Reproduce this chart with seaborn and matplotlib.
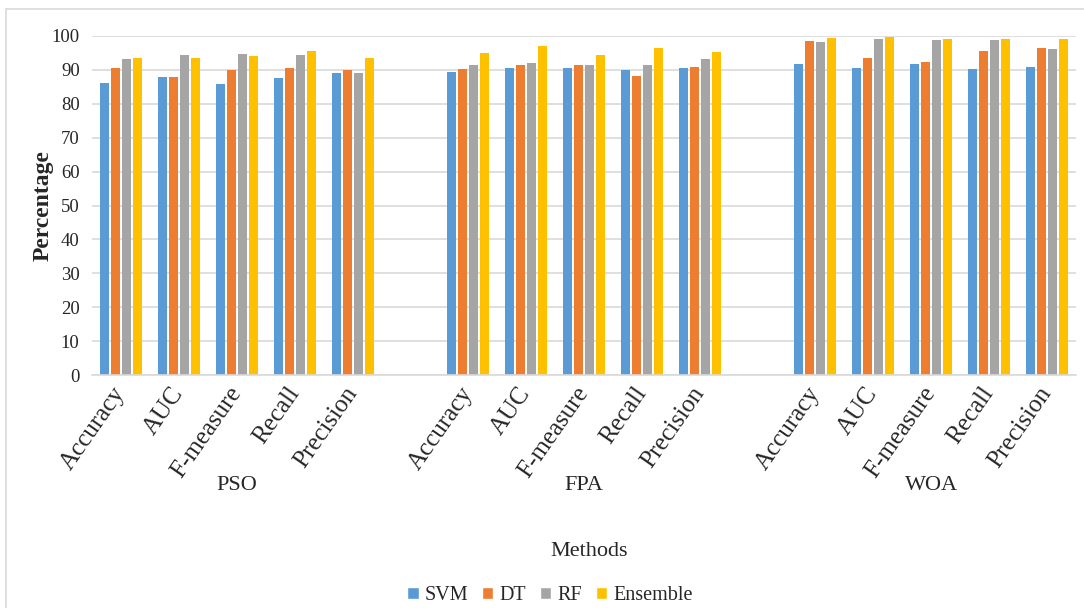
import pandas as pd
import seaborn as sns
import matplotlib.pyplot as plt
from matplotlib.patches import Rectangle, Patch

methods = ["PSO", "FPA", "WOA"]
metrics = ["Accuracy", "AUC", "F-measure", "Recall", "Precision"]
models = ["SVM", "DT", "RF", "Ensemble"]
colors = ["#5B9BD5", "#ED7D31", "#A5A5A5", "#FFC000"]

# values per method, rows = metrics order
svm = {"PSO": [86.0, 87.9, 85.8, 87.6, 89.1],
       "FPA": [89.4, 90.4, 90.4, 89.9, 90.5],
       "WOA": [91.6, 90.6, 91.6, 90.3, 90.9]}
dt = {"PSO": [90.5, 87.9, 90.0, 90.5, 90.0],
      "FPA": [90.3, 91.3, 91.3, 88.3, 90.9],
      "WOA": [98.5, 93.4, 92.4, 95.4, 96.5]}
rf = {"PSO": [93.1, 94.5, 94.7, 94.5, 89.2],
      "FPA": [91.3, 92.0, 91.3, 91.3, 93.3],
      "WOA": [98.1, 99.1, 98.7, 98.9, 96.2]}
ens = {"PSO": [93.4, 93.4, 94.0, 95.5, 93.4],
       "FPA": [95.0, 97.0, 94.5, 96.3, 95.3],
       "WOA": [99.3, 99.6, 99.0, 99.1, 99.1]}

rows = []
for model, vals in zip(models, [svm, dt, rf, ens]):
    for m in methods:
        for metric, v in zip(metrics, vals[m]):
            rows.append({"slot": m + "|" + metric, "model": model, "value": v})
df = pd.DataFrame(rows)

# category order with an empty slot between method groups
order = []
for i, m in enumerate(methods):
    order += [m + "|" + k for k in metrics]
    if i < len(methods) - 1:
        order.append("gap%d" % i)

sns.set_style("white")
plt.rcParams["font.family"] = ["Liberation Serif", "DejaVu Serif"]

fig = plt.figure(figsize=(10.84, 6.08), dpi=100)
ax = fig.add_axes([0.085, 0.383, 0.9075, 0.558])

sns.barplot(data=df, x="slot", y="value", hue="model", order=order,
            hue_order=models, palette=colors, width=0.76, gap=0.18,
            saturation=1, linewidth=0, legend=False, ax=ax)

ax.set_ylim(0, 100)
ax.set_xlim(-0.5, len(order) - 0.5)
ax.set_yticks(range(0, 101, 10))
ax.yaxis.grid(True, color="#d9d9d9", lw=1.2)
ax.set_axisbelow(True)
for s in ["top", "right", "left"]:
    ax.spines[s].set_visible(False)
ax.spines["bottom"].set_color("#d9d9d9")
ax.spines["bottom"].set_linewidth(1.2)
ax.tick_params(axis="both", length=0)
ax.tick_params(axis="y", pad=9, labelsize=13.5)
ax.tick_params(axis="x", pad=10)

ticklabels = ["" if s.startswith("gap") else s.split("|")[1] for s in order]
ax.set_xticks(range(len(order)))
ax.set_xticklabels(ticklabels, rotation=55, ha="right", va="center",
                   rotation_mode="anchor", fontsize=18)
ax.set_xlabel("")
ax.set_ylabel("Percentage", fontsize=17, fontweight="bold")
ax.yaxis.set_label_coords(-0.039, 0.5)

# method group labels
tr = ax.get_xaxis_transform()
for i, m in enumerate(methods):
    ax.text(i * 6 + 2, -0.325, m, transform=tr, ha="center", va="center",
            fontsize=16)
ax.text(0.505, -0.52, "Methods", transform=ax.transAxes, ha="center",
        va="center", fontsize=16)

handles = [Patch(facecolor=c, label=l) for c, l in zip(colors, models)]
fig.legend(handles=handles, loc="center", ncol=4,
           bbox_to_anchor=(550 / 1084, 1 - 596 / 608), frameon=False,
           fontsize=14.5, handlelength=0.55, handleheight=0.55,
           handletextpad=0.3, columnspacing=0.7)

fig.patches.append(Rectangle((6 / 1084, -0.02), 1.05, 1 - 9 / 608 + 0.02,
                             transform=fig.transFigure, fill=False,
                             edgecolor="#d9d9d9", lw=1.2))

plt.savefig("out.png", dpi=100)
